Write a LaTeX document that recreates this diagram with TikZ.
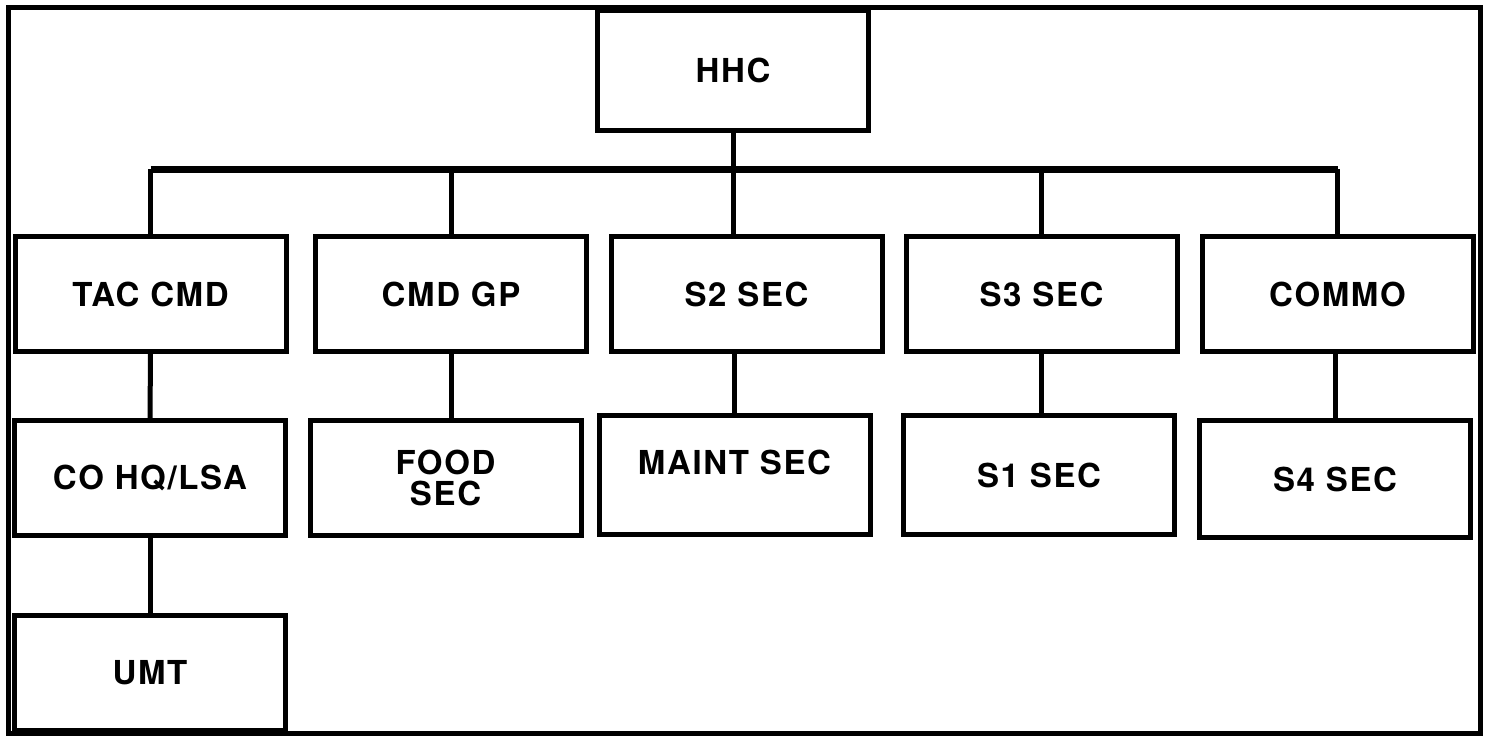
\documentclass[tikz,border=0pt]{standalone}
\usepackage{fontspec}
\setmainfont{TeX Gyre Heros}[LetterSpace=5]
\begin{document}
\begin{tikzpicture}[
  x=0.5pt, y=-0.5pt,
  unit/.style={draw, line width=2.5pt, inner sep=0pt,
    minimum width=135.5pt, minimum height=57.5pt,
    font=\bfseries\fontsize{16.5}{15.5}\selectfont, align=center},
  tall/.style={minimum height=59.5pt},
  conn/.style={line width=2.5pt},
  bus/.style={line width=3.5pt},
  ]

  % Page and outer frame
  \useasboundingbox (0,0) rectangle (1489,736);
  \draw[line width=2.5pt] (8.5,7.5) rectangle (1480.5,733.5);

  % Headquarters box
  \node[unit, minimum height=60pt] (hhc) at (733,70.5) {HHC};
  \coordinate (hub) at (733,169);

  % First row of sections
  \node[unit] (tac) at (150.5,294) {TAC CMD};
  \node[unit] (cmdgp) at (451,294) {CMD GP};
  \node[unit] (s2sec) at (746.5,294) {S2 SEC};
  \node[unit] (s3sec) at (1041.5,294) {S3 SEC};
  \node[unit] (commo) at (1337.5,294) {COMMO};

  % Second row of sections
  \node[unit] (cohq) at (150,478) {CO HQ/LSA};
  \node[unit] (food) at (445.5,478) {FOOD\\SEC};
  \node[unit, tall, text depth=13pt] (maint) at (734.5,475) {MAINT SEC};
  \node[unit, tall] (s1sec) at (1039,475) {S1 SEC};
  \node[unit, minimum height=58.5pt] (s4sec) at (1335,479) {S4 SEC};

  % Bottom box
  \node[unit] (umt) at (150,673) {UMT};

  % HHC down to the bus
  \draw[conn] (hhc.south) -- (hub);
  \draw[bus] (tac.north |- hub) -- (commo.north |- hub);
  \foreach \n in {tac, cmdgp, s3sec, commo}
    \draw[conn] (\n.north |- hub) -- (\n.north);
  \draw[conn] (hub) -- (s2sec.north -| hub);

  % First row to second row
  \draw[conn] (tac.south) -- (cohq.north);
  \draw[conn] (cmdgp.south) -- (cmdgp.south |- food.north);
  \draw[conn] (s2sec.south -| maint.north) -- (maint.north);
  \draw[conn] (s3sec.south) -- (s3sec.south |- s1sec.north);
  \draw[conn] (commo.south -| s4sec.north) -- (s4sec.north);

  % Second row to UMT
  \draw[conn] (cohq.south) -- (umt.north);

\end{tikzpicture}
\end{document}
